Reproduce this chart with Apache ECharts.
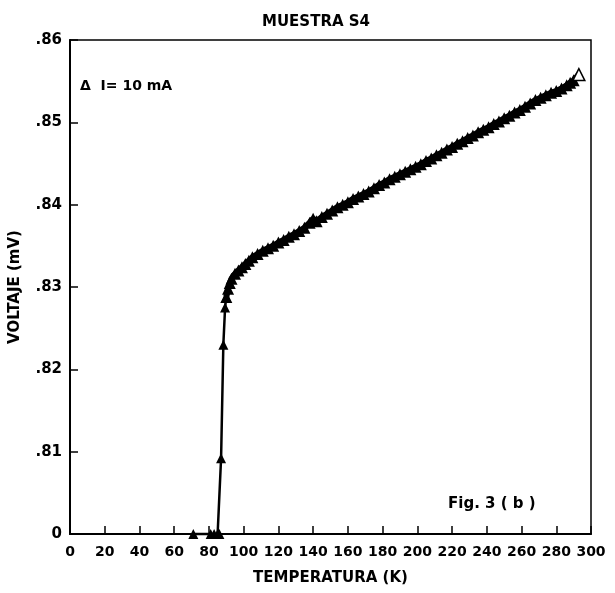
<!DOCTYPE html>
<html>
<head>
<meta charset="utf-8">
<script src="https://cdn.jsdelivr.net/npm/echarts@6/dist/echarts.min.js"></script>
<style>
  html, body { margin: 0; padding: 0; background: #fff; }
  #chart { width: 615px; height: 593px; }
</style>
</head>
<body>
<div id="chart"></div>
<script>
// temperature (K) and voltage (mV)
const temps = [71, 81, 83, 85, 86, 87, 88.3, 89.3,
  90, 91, 92, 93, 95, 97, 99, 101, 103, 105, 108, 111, 114, 117, 120,
  123, 126, 129, 132, 135, 138, 140, 142, 145, 148, 151, 154, 157, 160,
  163, 166, 169, 172, 175, 178, 181, 184, 187, 190, 193, 196, 199, 202,
  205, 208, 211, 214, 217, 220, 223, 226, 229, 232, 235, 238, 241, 244,
  247, 250, 253, 256, 259, 262, 265, 268, 271, 274, 277, 280, 283, 286,
  288, 290, 293]
const volts = [0.800, 0.800, 0.800, 0.800, 0.800, 0.8092, 0.8230, 0.8275,
  0.8288, 0.8298, 0.8305, 0.8310, 0.8316, 0.8320, 0.8324, 0.8328, 0.8332, 0.8336, 0.8340, 0.8344, 0.8347, 0.8350, 0.8354,
  0.8357, 0.8361, 0.8364, 0.8368, 0.8372, 0.8378, 0.8383, 0.8380, 0.8385, 0.8389, 0.8393, 0.8397, 0.8400, 0.8403,
  0.8407, 0.8410, 0.8413, 0.8416, 0.8420, 0.8424, 0.8427, 0.8431, 0.8434, 0.8437, 0.8440, 0.8443, 0.8446, 0.8449,
  0.8453, 0.8456, 0.8460, 0.8463, 0.8467, 0.8470, 0.8474, 0.8477, 0.8481, 0.8484, 0.8488, 0.8491, 0.8494, 0.8498,
  0.8501, 0.8505, 0.8508, 0.8512, 0.8515, 0.8519, 0.8523, 0.8527, 0.8530, 0.8533, 0.8536, 0.8538, 0.8541, 0.8545,
  0.8548, 0.8551, 0.8558]
const xTicks = [0, 300, 20]
const yTicks = [0.80, 0.86, 0.01]
const yLabels = { '0.80': '0', '0.81': '.81', '0.82': '.82', '0.83': '.83', '0.84': '.84', '0.85': '.85', '0.86': '.86' }

// transition (steep thin part) ends where the dense band begins
const splitAt = 8

const font = 'DejaVu Sans'
const chart = echarts.init(document.getElementById('chart'))

const points = temps.map((t, i) => {
  const item = { value: [t, volts[i]] }
  if (i === temps.length - 1) {
    item.itemStyle = { color: '#fff', borderColor: '#000', borderWidth: 1.5 }
  }
  return item
})

chart.setOption({
  animation: false,
  backgroundColor: '#fff',
  grid: {
    left: 66, right: 24, top: 40, bottom: 59,
    show: true, borderColor: '#000', borderWidth: 1.5, backgroundColor: 'transparent'
  },
  xAxis: {
    type: 'value',
    min: xTicks[0], max: xTicks[1], interval: xTicks[2],
    name: 'TEMPERATURA (K)',
    nameLocation: 'middle',
    nameGap: 37,
    nameTextStyle: { fontFamily: font, fontWeight: 'bold', fontSize: 15, color: '#000' },
    axisLine: { lineStyle: { color: '#000', width: 2 } },
    axisTick: { inside: true, length: 8, lineStyle: { color: '#000', width: 1.5 } },
    axisLabel: { fontFamily: font, fontWeight: 'bold', fontSize: 14, color: '#000', margin: 11 },
    splitLine: { show: false }
  },
  yAxis: {
    type: 'value',
    min: yTicks[0], max: yTicks[1], interval: yTicks[2],
    name: 'VOLTAJE (mV)',
    nameLocation: 'middle',
    nameGap: 47,
    nameRotate: 90,
    nameTextStyle: { fontFamily: font, fontWeight: 'bold', fontSize: 15, color: '#000' },
    axisLine: { show: true, lineStyle: { color: '#000', width: 2 } },
    axisTick: { inside: true, length: 8, lineStyle: { color: '#000', width: 1.5 } },
    axisLabel: {
      fontFamily: font, fontWeight: 'bold', fontSize: 15, color: '#000', margin: 8,
      formatter: v => yLabels[v.toFixed(2)] || ''
    },
    splitLine: { show: false }
  },
  graphic: [
    {
      type: 'text', x: 316, y: 22,
      style: { text: 'MUESTRA S4', fontFamily: font, fontWeight: 'bold', fontSize: 15, fill: '#000', align: 'center', verticalAlign: 'middle' }
    },
    {
      type: 'text', left: 80, top: 79,
      style: { text: 'Δ  I= 10 mA', fontFamily: font, fontWeight: 'bold', fontSize: 14, fill: '#000' }
    },
    {
      type: 'text', left: 448, top: 497,
      style: { text: 'Fig. 3 ( b )', fontFamily: font, fontWeight: 'bold', fontSize: 15, fill: '#000' }
    }
  ],
  series: [
    {
      type: 'line',
      data: points.slice(0, splitAt + 1),
      symbol: 'triangle',
      symbolSize: 10,
      showAllSymbol: true,
      clip: false,
      itemStyle: { color: '#000' },
      lineStyle: { color: '#000', width: 2.5 }
    },
    {
      type: 'line',
      data: points.slice(splitAt),
      symbol: 'triangle',
      symbolSize: 12,
      showAllSymbol: true,
      clip: false,
      itemStyle: { color: '#000' },
      lineStyle: { color: '#000', width: 6 }
    }
  ]
})
</script>
</body>
</html>
